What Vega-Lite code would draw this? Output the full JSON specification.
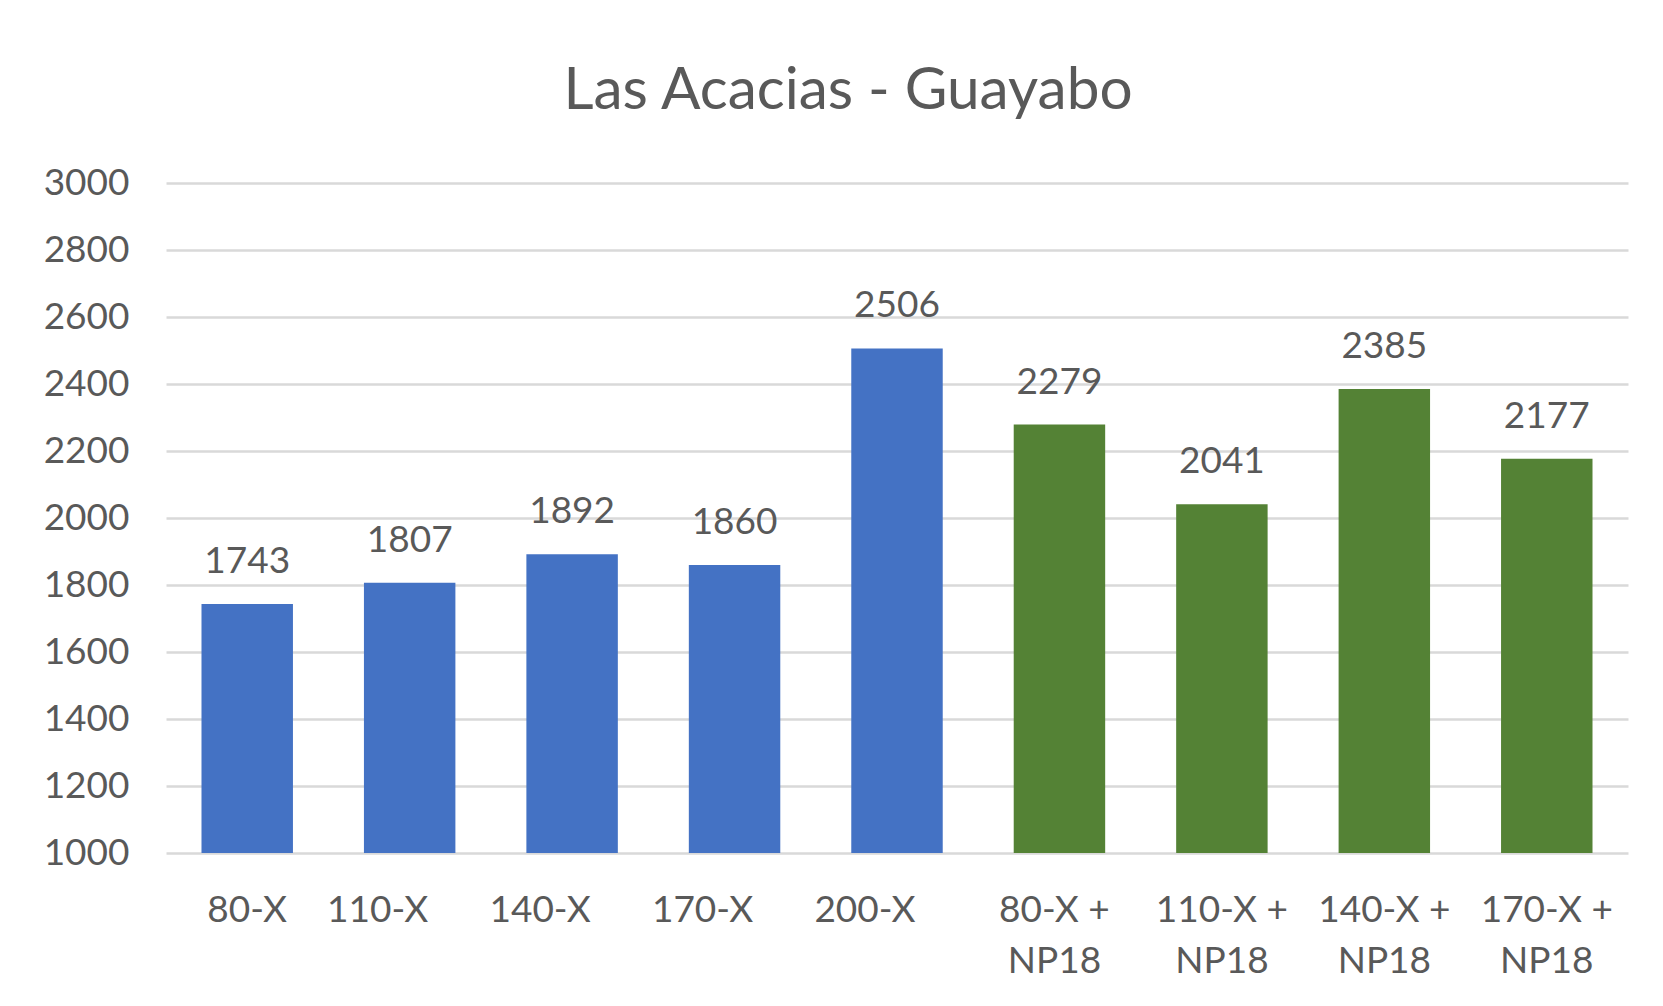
{
  "$schema": "https://vega.github.io/schema/vega-lite/v6.json",
  "autosize": {"type": "none"},
  "padding": {"left": 166, "top": 183, "right": 35, "bottom": 153},
  "width": 1462,
  "height": 670,
  "background": "white",
  "title": {
    "text": "Las Acacias - Guayabo",
    "font": "Lato",
    "fontSize": 58.5,
    "fontWeight": "normal",
    "color": "#595959",
    "anchor": "middle",
    "frame": "group",
    "baseline": "alphabetic",
    "offset": -3,
    "dx": -49
  },
  "data": {
    "values": [
      {"cat": "80-X", "value": 1743, "grupo": "X"},
      {"cat": "110-X", "value": 1807, "grupo": "X"},
      {"cat": "140-X", "value": 1892, "grupo": "X"},
      {"cat": "170-X", "value": 1860, "grupo": "X"},
      {"cat": "200-X", "value": 2506, "grupo": "X"},
      {"cat": "80-X + NP18", "value": 2279, "grupo": "X + NP18"},
      {"cat": "110-X + NP18", "value": 2041, "grupo": "X + NP18"},
      {"cat": "140-X + NP18", "value": 2385, "grupo": "X + NP18"},
      {"cat": "170-X + NP18", "value": 2177, "grupo": "X + NP18"}
    ]
  },
  "encoding": {
    "x": {
      "field": "cat",
      "type": "nominal",
      "sort": null,
      "scale": {"paddingInner": 0.437, "paddingOuter": 0.2185},
      "axis": {
        "title": null,
        "domain": false,
        "ticks": false,
        "tickSize": 0,
        "labelAngle": 0,
        "labelFont": "Lato",
        "labelFontSize": 37,
        "labelColor": "#595959",
        "labelPadding": 39,
        "labelLineHeight": 51,
        "labelBaseline": "top",
        "labelExpr": "indexof(datum.label, 'NP18') > 0 ? [replace(datum.label, ' NP18', ''), 'NP18'] : datum.label",
        "labelOffset": {
          "condition": [
            {"test": "indexof(['110-X','140-X','170-X','200-X'], datum.value) >= 0", "value": -32},
            {"test": "datum.value == '80-X + NP18'", "value": -5}
          ],
          "value": 0
        }
      }
    },
    "y": {
      "field": "value",
      "type": "quantitative",
      "scale": {"domain": [1000, 3000], "nice": false, "zero": false},
      "axis": {
        "title": null,
        "values": [1000, 1200, 1400, 1600, 1800, 2000, 2200, 2400, 2600, 2800, 3000],
        "format": "d",
        "domain": false,
        "ticks": false,
        "tickSize": 0,
        "labelFont": "Lato",
        "labelFontSize": 37,
        "labelColor": "#595959",
        "labelPadding": 37,
        "grid": true,
        "gridColor": "#d9d9d9",
        "gridWidth": 2.5
      }
    }
  },
  "layer": [
    {
      "mark": {"type": "bar", "clip": true},
      "encoding": {
        "color": {
          "field": "grupo",
          "type": "nominal",
          "scale": {"domain": ["X", "X + NP18"], "range": ["#4472C4", "#548235"]},
          "legend": null
        }
      }
    },
    {
      "mark": {
        "type": "text",
        "baseline": "alphabetic",
        "align": "center",
        "dy": -31,
        "font": "Lato",
        "fontSize": 37,
        "color": "#595959"
      },
      "encoding": {
        "text": {"field": "value", "type": "quantitative", "format": "d"}
      }
    }
  ],
  "config": {
    "view": {"stroke": null}
  }
}
